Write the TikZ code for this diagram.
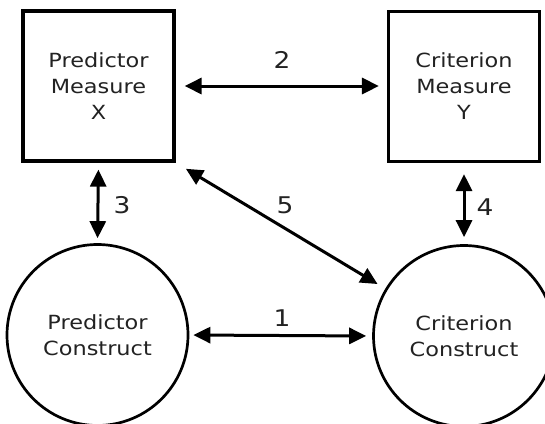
\documentclass[tikz,border=0pt]{standalone}
\usepackage{fontspec}
\setmainfont[FakeStretch=1.15]{DejaVu Sans}
\usetikzlibrary{arrows.meta}
\definecolor{ink}{HTML}{222222}
\tikzset{
  measure/.style={draw=black, line width=3.2pt, minimum width=151pt, minimum height=150pt, inner sep=0pt,
    align=center, text=ink, font=\fontsize{19.5pt}{26pt}\selectfont},
  construct/.style={draw=black, line width=2.7pt, circle, minimum size=181pt, inner sep=0pt,
    align=center, text=ink, font=\fontsize{19.5pt}{26pt}\selectfont},
  link/.style={line width=3pt, {Triangle[length=17pt,width=16pt]}-{Triangle[length=17pt,width=16pt]}},
  num/.style={text=ink, font=\fontsize{23pt}{23pt}\selectfont, inner sep=0pt}
}
\begin{document}
\begin{tikzpicture}[x=1pt,y=-1pt]
  \useasboundingbox (0,0) rectangle (545,423);
  \clip (0,0) rectangle (545,423);

  % measures (top row) and constructs (bottom row)
  \node[measure] (px) at (98.5,86) {Predictor\\Measure\\X};
  \node[measure] (cy) at (464,86.5) {Criterion\\Measure\\Y};
  \node[construct] (pc) at (97.5,335) {Predictor\\Construct};
  \node[construct] (cc) at (464,336) {Criterion\\Construct};

  % relationships
  \draw[link, shorten <=9pt, shorten >=8pt] (px.east |- 0,86) -- (cy.west |- 0,86);
  \draw[link, shorten <=4pt, shorten >=6pt] (pc.east) -- (cc.west);
  \draw[link, shorten <=7pt, shorten >=5pt] (px.south) -- (pc.north);
  \draw[link, shorten <=11pt, shorten >=7pt] (cy.south) -- (cc.north);
  \draw[link, shorten <=12pt, shorten >=9pt] (px.south east) -- (cc);

  % labels
  \node[num] (n1) at (282,318) {1};
  \node[num] (n2) at (282,60) {2};
  \node[num] (n3) at (122,205) {3};
  \node[num] (n4) at (485,207) {4};
  \node[num] (n5) at (285,205) {5};
\end{tikzpicture}
\end{document}
